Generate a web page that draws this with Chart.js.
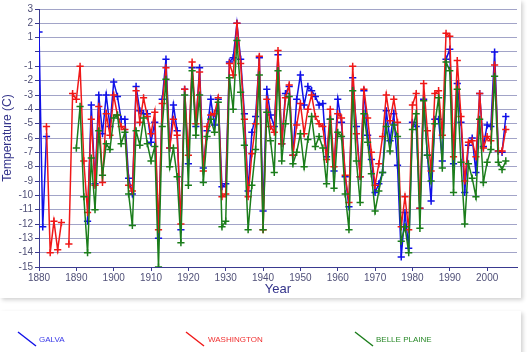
<!DOCTYPE html>
<html>
<head>
<meta charset="utf-8">
<script src="https://cdn.jsdelivr.net/npm/chart.js@4.4.0/dist/chart.umd.min.js"></script>
<style>
html,body{margin:0;padding:0;background:#ffffff;}
#wrap{position:relative;width:529px;height:352px;overflow:hidden;}
.panel{position:absolute;background:#fff;box-shadow:2px 2px 4px rgba(0,0,0,0.18);}
#p1{left:0;top:0;width:521px;height:298px;}
#p2{left:0;top:311px;width:521px;height:45px;}
canvas{position:absolute;left:0;top:0;}
</style>
</head>
<body>
<div id="wrap">
<div class="panel" id="p1"></div>
<div class="panel" id="p2"></div>
<canvas id="c" width="529" height="352"></canvas>
</div>
<script>
const years = [];
for (let y = 1880; y <= 2005; y++) years.push(y);

const seriesNames = ["GALVA", "WASHINGTON", "BELLE PLAINE"];

const galva = [
 1.4,-12.2,-5.9,null,null,null,null,null,null,null,
 null,null,null,-11.8,-3.7,-9.2,-3.0,-5.7,-3.0,-5.2,
 -2.1,-3.1,-4.7,-4.7,-8.8,-9.9,-2.4,-4.1,-4.3,-4.3,
 -6.3,-4.9,-13.0,-3.3,-0.5,-6.7,-3.7,-5.5,-12.4,-2.6,
 -7.8,-1.1,-5.2,-1.1,-8.1,-5.5,-3.3,-5.1,-3.3,-9.4,
 -9.2,-0.7,-0.4,2.0,-0.5,-4.3,-9.7,-5.6,-4.5,-0.4,
 -11.1,-2.6,-4.4,-5.2,-0.2,-6.4,-2.9,-2.4,-7.2,-3.3,
 -1.6,-3.7,-2.4,-2.7,-3.1,-3.7,-3.6,-7.3,-4.7,-8.3,
 -3.3,-4.9,-8.7,-10.8,-1.8,-5.2,-8.7,-2.7,-5.8,-7.5,
 -9.8,-9.2,-8.4,-4.1,-6.2,-4.3,-7.9,-14.3,-11.2,-13.7,
 -4.9,-5.2,-10.9,-3.3,-7.2,-10.4,-4.7,-4.7,-7.6,-0.5,
 0.2,-7.8,-2.2,-4.9,-9.8,-6.5,-6.0,-8.4,-2.9,-6.6,
 -5.1,-5.2,0.0,-6.9,-7.0,-4.5
];
const washington = [
 null,null,-5.2,-14.0,-11.8,-13.8,-11.9,null,-13.4,-2.9,
 -3.3,-1.0,-7.6,-11.2,-4.7,-9.3,-3.8,-9.1,-4.3,-5.8,
 -3.0,-4.4,-5.2,-5.4,-9.3,-9.7,-2.7,-4.9,-3.2,-4.5,
 -5.7,-4.2,-12.4,-3.6,-1.1,-6.7,-4.7,-5.8,-12.0,-2.6,
 -7.2,-0.7,-5.0,-1.4,-8.3,-5.2,-4.4,-4.3,-3.2,-10.1,
 -9.9,-0.8,-1.6,2.0,-0.8,-4.7,-10.1,-7.1,-5.0,-0.3,
 -12.4,-3.3,-5.2,-5.6,0.1,-6.4,-3.2,-2.3,-7.2,-5.1,
 -3.6,-5.7,-4.0,-3.0,-4.5,-5.0,-5.2,-7.5,-4.0,-8.0,
 -4.3,-4.6,-8.6,-10.5,-1.0,-5.7,-8.7,-2.6,-4.6,-7.0,
 -9.3,-7.8,-5.9,-3.0,-4.8,-3.3,-4.9,-12.2,-10.1,-12.4,
 -3.7,-2.9,-10.9,-2.2,-5.5,-8.3,-2.9,-2.7,-5.8,1.3,
 1.1,-7.3,-0.6,-4.5,-9.0,-6.3,-6.2,-7.3,-2.9,-6.7,
 -5.9,-6.2,-0.9,-6.9,-6.9,-5.4
];
const bellePlaine = [
 null,null,null,null,null,null,null,null,null,null,
 -6.7,-3.8,-10.1,-14.0,-7.4,-11.0,-5.5,-8.6,-6.4,-6.8,
 -4.6,-4.4,-6.4,-5.6,-9.9,-12.1,-5.5,-6.5,-4.6,-6.4,
 -7.6,-6.6,-15.0,-5.2,-1.9,-8.0,-6.7,-8.7,-13.3,-3.0,
 -9.3,-1.3,-5.8,-3.0,-9.1,-5.9,-4.7,-5.6,-3.5,-12.2,
 -11.8,-1.8,-4.0,0.8,-2.8,-6.5,-12.4,-9.3,-6.8,-1.6,
 -12.4,-4.2,-6.2,-8.4,-1.3,-7.6,-5.0,-3.1,-7.8,-7.0,
 -5.7,-8.0,-6.1,-4.5,-6.6,-5.9,-6.7,-9.2,-4.7,-9.5,
 -5.6,-5.9,-9.9,-12.4,-2.7,-7.6,-10.5,-4.3,-6.3,-8.5,
 -11.1,-9.7,-8.4,-5.2,-6.9,-5.1,-5.9,-13.2,-12.2,-14.0,
 -5.4,-4.3,-12.3,-3.4,-7.2,-9.0,-5.0,-3.2,-8.1,-0.7,
 -1.3,-9.8,-2.6,-7.7,-12.0,-7.8,-8.8,-10.1,-4.7,-9.1,
 -7.7,-6.8,-1.7,-7.7,-8.2,-7.6
];

const colors = ["#1010e8", "#f01818", "#1b7d1b"];
const legendTextColors = ["#3a3ae8", "#f03030", "#2a8a2a"];
const drawOrder = [2, 1, 0];
const allSeries = [galva, washington, bellePlaine];

function pts(arr){ return years.map((y,i)=>({x:y, y:arr[i]})); }

const datasets = allSeries.map((arr,i)=>({
  label: seriesNames[i],
  data: pts(arr),
  order: drawOrder[i],
  borderColor: colors[i],
  backgroundColor: colors[i],
  borderWidth: 1.5,
  pointStyle: 'cross',
  pointRadius: 3.6,
  pointBorderWidth: 1.5,
  pointHoverRadius: 3.6,
  spanGaps: false,
  tension: 0
}));

const legendPlugin = {
  id: 'bottomLegend',
  afterDraw(chart){
    const ctx = chart.ctx;
    const items = [
      {lx:18, tx:39},
      {lx:186, tx:208},
      {lx:355, tx:376}
    ];
    ctx.save();
    items.forEach((it,i)=>{
      ctx.strokeStyle = colors[i];
      ctx.lineWidth = 1.4;
      ctx.beginPath();
      ctx.moveTo(it.lx, 332);
      ctx.lineTo(it.lx+18, 346);
      ctx.stroke();
      ctx.fillStyle = legendTextColors[i];
      ctx.font = '8px "Liberation Sans", Arial, sans-serif';
      ctx.textBaseline = 'middle';
      ctx.textAlign = 'left';
      ctx.fillText(seriesNames[i], it.tx, 339.5);
    });
    ctx.restore();
  }
};

new Chart(document.getElementById('c'), {
  type: 'line',
  data: { datasets },
  options: {
    responsive: false,
    animation: false,
    events: [],
    layout: { padding: { left: 0, right: 12, top: 9, bottom: 55 } },
    plugins: { legend: { display: false }, tooltip: { enabled: false } },
    scales: {
      x: {
        type: 'linear',
        min: 1880, max: 2008,
        afterFit(s){ s.height = 30; },
        border: { color: '#3a3a90', width: 1 },
        grid: { drawOnChartArea: false, drawTicks: true, tickLength: 4, color: '#3a3a90' },
        ticks: {
          stepSize: 10, includeBounds: false, autoSkip: false, maxRotation: 0,
          padding: 1,
          color: '#505078',
          font: { family: '"Liberation Sans", Arial, sans-serif', size: 10 },
          callback: v => String(v)
        },
        title: {
          display: true, text: 'Year', color: '#33338a',
          font: { family: '"Liberation Sans", Arial, sans-serif', size: 13 },
          padding: { top: -3, bottom: 0 }
        }
      },
      y: {
        min: -15, max: 3,
        afterFit(s){ s.width = 39; },
        border: { color: '#3a3a90', width: 1 },
        grid: { color: '#a2a4c8', lineWidth: 1, drawTicks: true, tickLength: 4, tickColor: '#3a3a90' },
        ticks: {
          stepSize: 1, autoSkip: false,
          padding: 2,
          color: '#505078',
          font: { family: '"Liberation Sans", Arial, sans-serif', size: 10 },
          callback: v => (v === 0 ? '' : String(v))
        },
        title: {
          display: true, text: 'Temperature (C)', color: '#33338a',
          font: { family: '"Liberation Sans", Arial, sans-serif', size: 12 },
          padding: { top: 0, bottom: 0 }
        }
      }
    }
  },
  plugins: [legendPlugin]
});
</script>
</body>
</html>
